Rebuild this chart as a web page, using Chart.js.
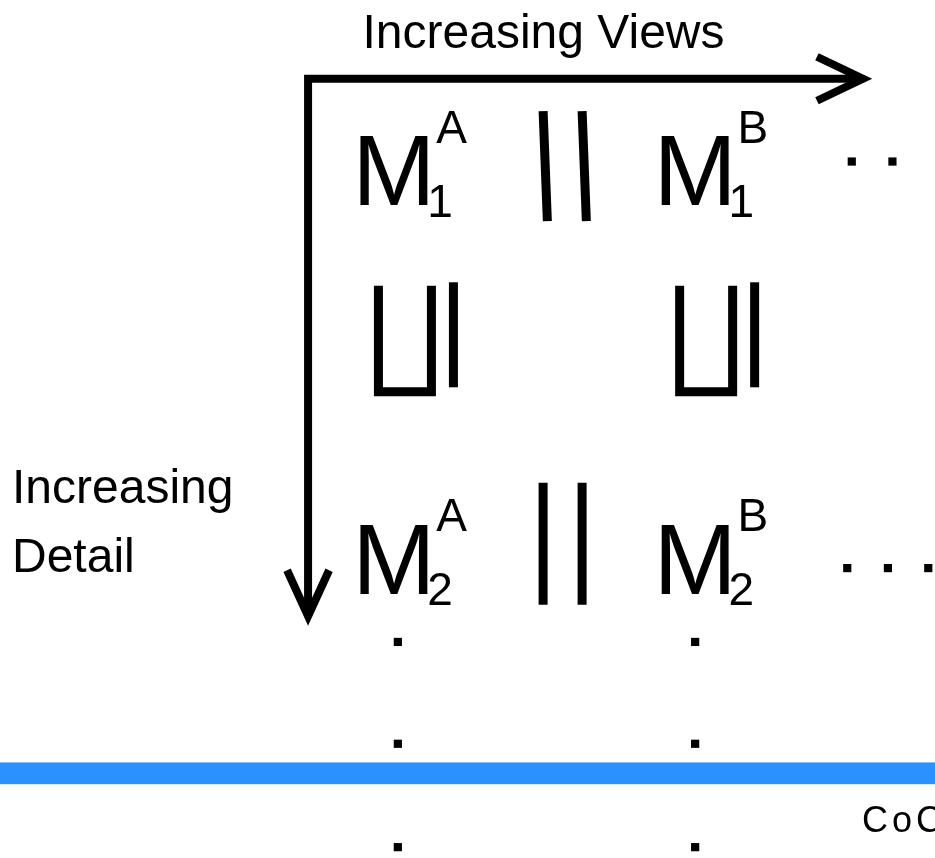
<!DOCTYPE html>
<html>
<head>
<meta charset="utf-8">
<title>Views / Detail lattice</title>
<script src="https://cdn.jsdelivr.net/npm/chart.js@4.4.1/dist/chart.umd.min.js"></script>
<style>
  html, body { margin: 0; padding: 0; background: #fff; }
  #wrap { width: 935px; height: 858px; position: relative; }
</style>
</head>
<body>
<div id="wrap"><canvas id="lattice"></canvas></div>
<script>
// Lattice data: columns are views, rows are levels of detail.
// x is measured in "view columns" (A = 0, B = 1), y in "detail rows" (1, 2, ...)
const views = ['A', 'B'];          // superscripts
const details = ['1', '2'];        // subscripts
const relationX = 0.56;            // the "||" between the two view columns
const refineRow = 1.492;           // row of the refinement glyphs between M1 and M2
const trailX = [[1.52, 1.655], [1.505, 1.64, 1.774]];   // "..." to the right of each row
const trailY = [0.888, 1.934];
const moreX = [0.013, 1.0];        // vertical dots below each column
const moreY = [2.124, 2.386, 2.652];
const axisOrigin = [-0.285, 0.675];
const viewsArrowEnd = 1.587;
const detailArrowEnd = 2.081;
const footerBand = [2.434, 2.49];

const FONT = '"Liberation Sans", Arial, Helvetica, sans-serif';

// one point per dot
const trailPoints = [];
trailX.forEach((row, j) => row.forEach(x => trailPoints.push({ x: x, y: trailY[j] })));
const morePoints = [];
moreX.forEach(x => moreY.forEach(y => morePoints.push({ x: x, y: y })));

// relation styles per row: first row is drawn slanted
const relStyles = [
    { top: -94, bottom: 16, skew: 4.25 },
    { top: -111, bottom: 11, skew: 0 }
];

const latticePlugin = {
    id: 'lattice',
    beforeDatasetsDraw(chart) {
        const ctx = chart.ctx;
        const px = v => chart.scales.x.getPixelForValue(v);
        const py = v => chart.scales.y.getPixelForValue(v);
        ctx.save();

        // footer band
        ctx.fillStyle = '#2b91ff';
        const b0 = py(footerBand[0]), b1 = py(footerBand[1]);
        ctx.fillRect(0, b0, chart.width, b1 - b0);

        ctx.fillStyle = '#000';
        ctx.strokeStyle = '#000';
        ctx.lineCap = 'butt';
        ctx.lineJoin = 'miter';

        // axes arrows
        const ox = px(axisOrigin[0]), oy = py(axisOrigin[1]);
        const hx = px(viewsArrowEnd) - 9, vy = py(detailArrowEnd) - 9;
        ctx.lineWidth = 8;
        ctx.beginPath();
        ctx.moveTo(ox, vy);
        ctx.lineTo(ox, oy);
        ctx.lineTo(hx, oy);
        ctx.stroke();
        ctx.beginPath();
        ctx.moveTo(hx - 46, oy - 22);
        ctx.lineTo(hx, oy);
        ctx.lineTo(hx - 46, oy + 22);
        ctx.stroke();
        ctx.beginPath();
        ctx.moveTo(ox - 21, vy - 46);
        ctx.lineTo(ox, vy);
        ctx.lineTo(ox + 21, vy - 46);
        ctx.stroke();

        // labels
        ctx.textBaseline = 'alphabetic';
        ctx.font = '48px ' + FONT;
        ctx.textAlign = 'center';
        ctx.fillText('Increasing Views', 543.5, 48);
        ctx.textAlign = 'left';
        ctx.fillText('Increasing', 12, 503);
        ctx.fillText('Detail', 12, 572);
        ctx.font = '36px ' + FONT;
        ctx.letterSpacing = '4px';
        ctx.fillText('CoC', 862, 832);
        ctx.letterSpacing = '0px';

        // M^view_detail
        details.forEach((d, j) => {
            const by = py(j + 1);
            views.forEach((v, i) => {
                const cx = px(i);
                ctx.font = '100px ' + FONT;
                ctx.textAlign = 'center';
                ctx.fillText('M', cx, by);
                const right = cx + ctx.measureText('M').actualBoundingBoxRight;
                ctx.font = '46px ' + FONT;
                ctx.textAlign = 'left';
                ctx.fillText(v, right + 8, by - 62.5);
                ctx.fillText(d, right - 1, by + 11.5);
            });

            // "||" between the views
            const st = relStyles[j];
            const rx = px(relationX);
            ctx.lineWidth = 9;
            [-19.5, 19.5].forEach(s => {
                ctx.beginPath();
                ctx.moveTo(rx + s, by + st.top);
                ctx.lineTo(rx + s + st.skew, by + st.bottom);
                ctx.stroke();
            });
        });

        // refinement glyphs (square cup with bar)
        const bot = py(refineRow);
        views.forEach((v, i) => {
            const cx = px(i);
            const L = cx - 20, R = cx + 42, T = bot - 110.5;
            ctx.lineWidth = 9;
            ctx.beginPath();
            ctx.moveTo(L + 4.5, T);
            ctx.lineTo(L + 4.5, bot - 4.5);
            ctx.lineTo(R - 4.5, bot - 4.5);
            ctx.lineTo(R - 4.5, T);
            ctx.stroke();
            ctx.fillRect(cx + 55, T - 3.5, 9, 105);
        });

        ctx.restore();
    }
};

const dotStyle = {
    pointStyle: 'rect',
    pointRadius: 5.8,
    pointRotation: 0,
    backgroundColor: '#000',
    borderWidth: 0,
    showLine: false,
    clip: false
};

new Chart(document.getElementById('lattice').getContext('2d'), {
    type: 'scatter',
    data: {
        datasets: [
            Object.assign({ label: 'More views', data: trailPoints }, dotStyle),
            Object.assign({ label: 'More detail', data: morePoints }, dotStyle)
        ]
    },
    options: {
        responsive: true,
        maintainAspectRatio: false,
        animation: false,
        events: [],
        layout: { padding: 0 },
        plugins: {
            legend: { display: false },
            tooltip: { enabled: false }
        },
        scales: {
            x: { type: 'linear', display: false, min: -1.28852, max: 1.77705 },
            y: { type: 'linear', display: false, reverse: true, min: 0.48731, max: 2.664975 }
        }
    },
    plugins: [latticePlugin]
});
</script>
</body>
</html>
